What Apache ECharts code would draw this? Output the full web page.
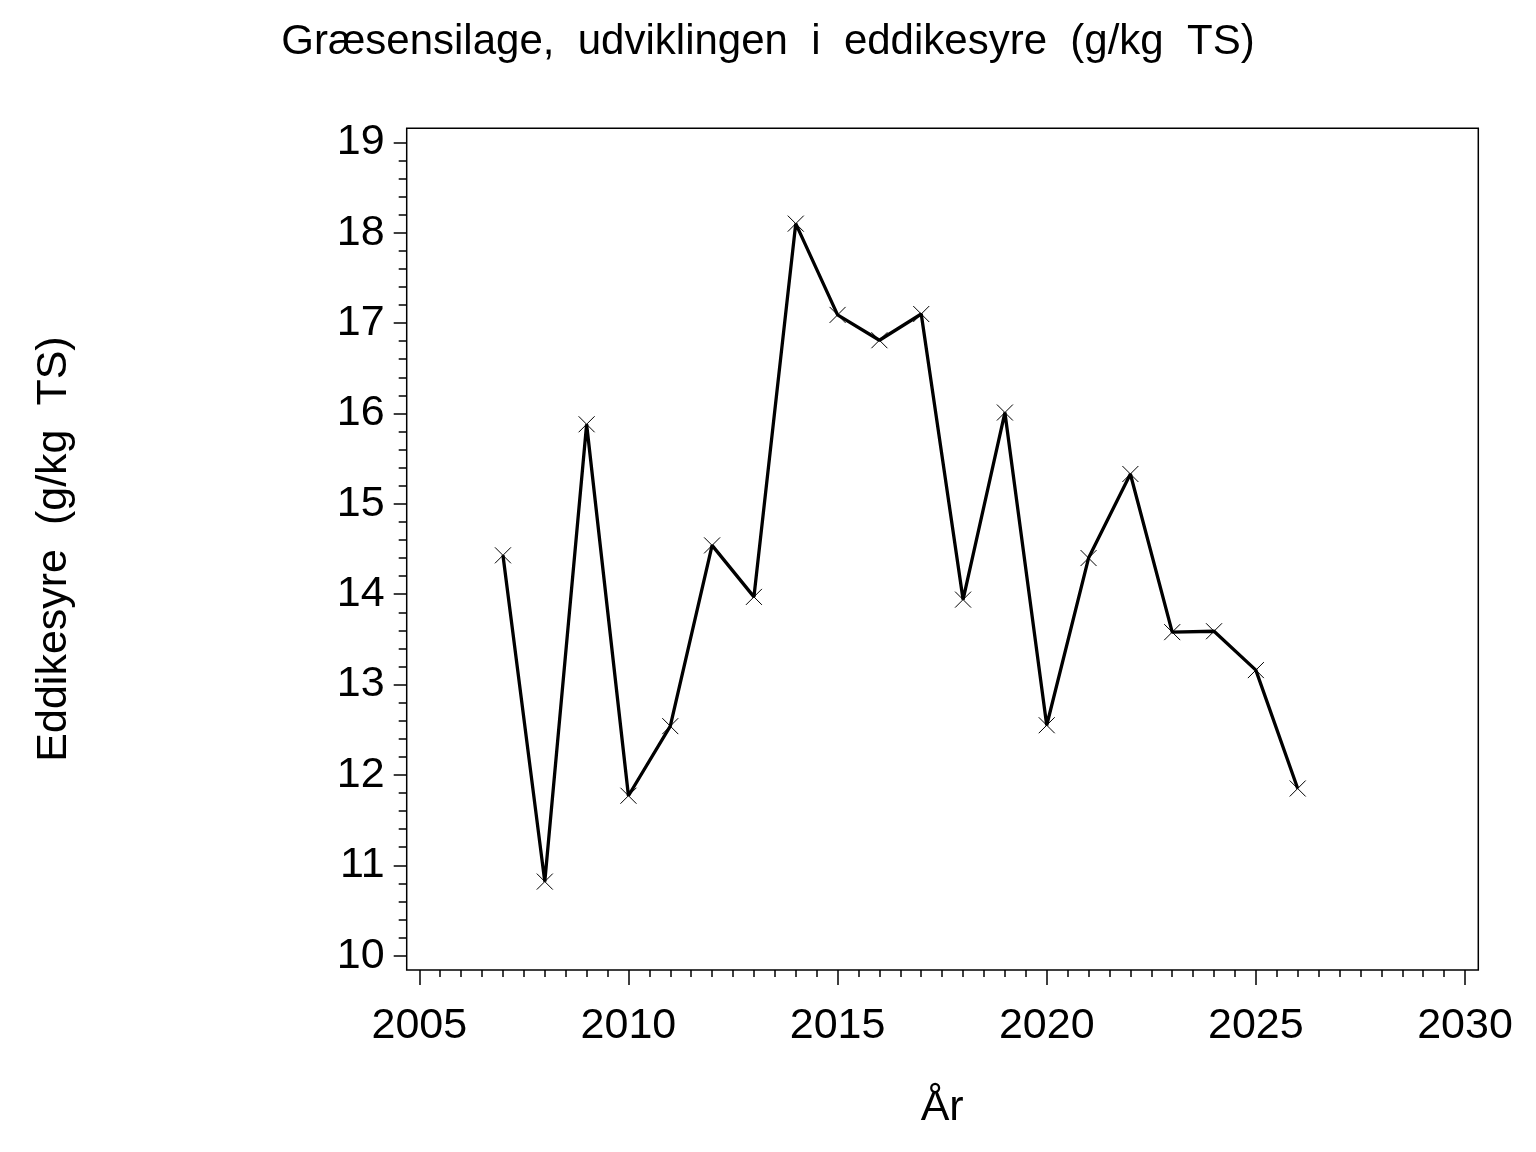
<!DOCTYPE html>
<html>
<head>
    <meta charset="utf-8">
    <title>Græsensilage, eddikesyre</title>
    <script src="https://cdn.jsdelivr.net/npm/echarts@6/dist/echarts.min.js"></script>
    <style>
        html, body { margin: 0; padding: 0; background: #fff; }
        #main { width: 1536px; height: 1152px; }
    </style>
</head>
<body>
<div id="main"></div>
<script type="text/javascript">
    var years = [2007, 2008, 2009, 2010, 2011, 2012, 2013, 2014, 2015, 2016,
                 2017, 2018, 2019, 2020, 2021, 2022, 2023, 2024, 2025, 2026];
    var eddikesyre = [14.43, 10.82, 15.88, 11.77, 12.54, 14.54, 13.97, 18.10, 17.09, 16.81,
                      17.10, 13.94, 16.01, 12.55, 14.40, 15.33, 13.58, 13.59, 13.16, 11.85];
    var xTicks = [2005, 2010, 2015, 2020, 2025, 2030];
    var yTicks = [10, 11, 12, 13, 14, 15, 16, 17, 18, 19];

    var font = "'Liberation Sans', Arial, sans-serif";
    var points = years.map(function (y, i) { return [y, eddikesyre[i]]; });

    function showLine() {
        var chart = echarts.init(document.getElementById('main'));
        var option = {
            animation: false,
            backgroundColor: '#fff',
            title: {
                text: 'Græsensilage,  udviklingen  i  eddikesyre  (g/kg  TS)',
                left: 'center',
                top: 16,
                textStyle: { color: '#000', fontFamily: font, fontSize: 42, fontWeight: 'normal' }
            },
            grid: [
                // selve plotområdet
                { left: 419.3, top: 142.3, width: 1045.7, height: 813.4 },
                // rammen rundt om
                { left: 406.7, top: 128.3, width: 1071.6, height: 841.7,
                  show: true, borderColor: '#000', borderWidth: 1.5, backgroundColor: 'transparent' }
            ],
            xAxis: [
                {
                    type: 'value',
                    gridIndex: 0,
                    min: xTicks[0],
                    max: xTicks[xTicks.length - 1],
                    interval: 5,
                    offset: 14.3,
                    name: 'År',
                    nameLocation: 'middle',
                    nameGap: 117,
                    nameTextStyle: { color: '#000', fontFamily: font, fontSize: 43 },
                    axisLine: { show: false },
                    axisTick: { show: true, inside: false, length: 15, lineStyle: { color: '#000', width: 1.5 } },
                    minorTick: { show: true, splitNumber: 10, length: 7, lineStyle: { color: '#000', width: 1.5 } },
                    splitLine: { show: false },
                    axisLabel: {
                        color: '#000', fontFamily: font, fontSize: 43, margin: 35,
                        formatter: function (v) { return String(v); }
                    }
                },
                { type: 'value', gridIndex: 1, show: false, min: 0, max: 1 }
            ],
            yAxis: [
                {
                    type: 'value',
                    gridIndex: 0,
                    min: yTicks[0],
                    max: yTicks[yTicks.length - 1],
                    interval: 1,
                    offset: 12.6,
                    name: 'Eddikesyre  (g/kg  TS)',
                    nameLocation: 'middle',
                    nameRotate: 90,
                    nameGap: 331,
                    nameTextStyle: { color: '#000', fontFamily: font, fontSize: 43 },
                    axisLine: { show: false },
                    axisTick: { show: true, inside: false, length: 13, lineStyle: { color: '#000', width: 1.5 } },
                    minorTick: { show: true, splitNumber: 5, length: 8, lineStyle: { color: '#000', width: 1.5 } },
                    splitLine: { show: false },
                    axisLabel: { color: '#000', fontFamily: font, fontSize: 43, margin: 22 }
                },
                { type: 'value', gridIndex: 1, show: false, min: 0, max: 1 }
            ],
            series: [
                {
                    name: 'Eddikesyre',
                    type: 'line',
                    xAxisIndex: 0,
                    yAxisIndex: 0,
                    data: points,
                    symbol: 'path://M0,0L10,10M10,0L0,10',
                    symbolSize: 16,
                    showAllSymbol: true,
                    lineStyle: { color: '#000', width: 3.3 },
                    itemStyle: { color: 'none', borderColor: '#000', borderWidth: 1 },
                    emphasis: { disabled: true },
                    z: 3
                }
            ]
        };
        chart.setOption(option);
    }
    showLine();
</script>
</body>
</html>
